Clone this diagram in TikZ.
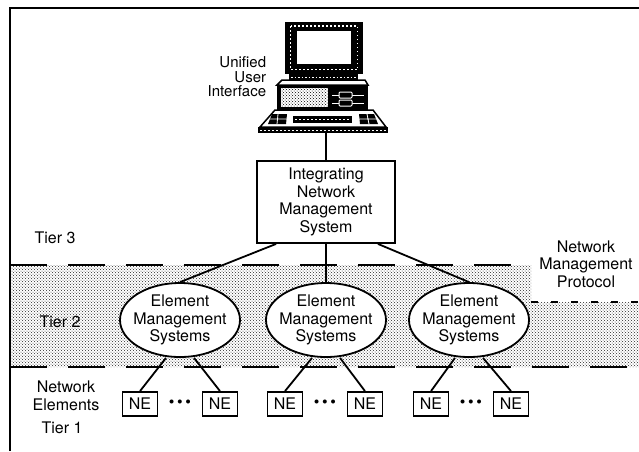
\documentclass[tikz,border=0pt]{standalone}
\usepackage{fontspec}
\setmainfont{TeX Gyre Heros}
\usepackage{tikz}
\usetikzlibrary{shapes,patterns}

\begin{document}
\begin{tikzpicture}[x=1pt,y=-1pt,line width=1.8pt,font=\fontsize{16}{17.5}\selectfont]

\tikzstyle{ems}=[ellipse, draw, fill=white, minimum width=120pt,
                 minimum height=74pt, inner sep=-12pt, align=center]
\tikzstyle{ne}=[rectangle, draw, fill=white, minimum width=35pt,
                minimum height=24pt, inner sep=0pt]
\tikzstyle{tierline}=[line width=2pt, dash pattern=on 37pt off 21pt]
\tikzstyle{txt}=[align=center, inner sep=0pt]

\useasboundingbox (0,0) rectangle (639,451);

% tier 2 band
\fill[pattern=crosshatch dots, pattern color=black!85] (10,265) -- (531,265) -- (531,302)
   -- (639,302) -- (639,367) -- (10,367) -- cycle;
\draw[tierline] (10,265) -- (531,265);
\draw[tierline] (10,367) -- (639,367);
\draw[line width=2pt, dash pattern=on 7pt off 13pt] (531,302) -- (639,302);

% frame
\draw[line width=2pt] (10,451) -- (10,8) -- (639,8);

% workstation
\fill (285,22) rectangle (363,74);
\draw[white, line width=1.2pt, dash pattern=on 1.5pt off 2.5pt] (290.5,26) rectangle (357.5,69.5);
\draw[fill=white, line width=1.5pt] (296,30) rectangle (352,65);
\fill (289,74) rectangle (358,80);
\draw[white, line width=1pt, dash pattern=on 1.5pt off 2pt] (291,77) -- (356,77);
\draw[fill=white, line width=1.5pt] (282,80) -- (365,80) -- (368,85) -- (277,85) -- cycle;
\fill (277,85) rectangle (368,110);
\fill[white] (281,88) rectangle (328,107);
\fill[pattern=crosshatch dots] (281,88) rectangle (328,107);
\draw[white, line width=1pt] (332,95) -- (364,95) (332,103) -- (364,103);
\draw[white, fill=black, line width=1pt, rounded corners=1pt] (339,92) rectangle (352,98);
\draw[white, fill=black, line width=1pt, rounded corners=1pt] (339,100) rectangle (352,106);
\draw[fill=white, line width=1.5pt] (275,110) -- (373,110) -- (386,127) -- (260,127) -- cycle;
\fill (272,114) -- (287,114) -- (286,124) -- (268,124) -- cycle;
\draw[white, line width=0.8pt] (270,119) -- (287,119) (278,114) -- (277,124);
\fill (359,114) -- (374,114) -- (378,124) -- (360,124) -- cycle;
\draw[white, line width=0.8pt] (359,119) -- (376,119) (367,114) -- (369,124);
\fill (293,116) rectangle (352,123);
\draw[white, line width=1pt, dash pattern=on 2pt off 2pt] (295,119.5) -- (350,119.5);
\fill (258,127) rectangle (388,133);
\draw[white, line width=1pt, dash pattern=on 1.5pt off 2.5pt] (260,130) -- (386,130);
\coordinate (pc) at (326,133);

\node[txt, align=right, anchor=east, font=\fontsize{15}{14.5}\selectfont] (uui) at (267,77) {Unified\\User\\Interface};

% integrating system
\node[draw, fill=white, minimum width=138pt, minimum height=82pt, align=center, inner sep=0pt]
   (inms) at (326,202) {Integrating\\Network\\Management\\System};

% element management systems
\node[ems] (ems1) at (180,320) {Element\\Management\\Systems};
\node[ems] (ems2) at (326,320) {Element\\Management\\Systems};
\node[ems] (ems3) at (469,320) {Element\\Management\\Systems};

% network elements
\node[ne] (ne1-l) at (140,404) {NE};
\node[ne] (ne1-r) at (220,404) {NE};
\node[ne] (ne2-l) at (285,404) {NE};
\node[ne] (ne2-r) at (365,404) {NE};
\node[ne] (ne3-l) at (431,404) {NE};
\node[ne] (ne3-r) at (511,404) {NE};
\node[txt] (dots1) at (180,404) {\textbullet\,\textbullet\,\textbullet};
\node[txt] (dots2) at (325,404) {\textbullet\,\textbullet\,\textbullet};
\node[txt] (dots3) at (471,404) {\textbullet\,\textbullet\,\textbullet};

% tier labels
\node[txt] (t3) at (55,238) {Tier 3};
\node[txt] (t2) at (60,322) {Tier 2};
\node[txt] (nel) at (66,396) {Network\\Elements};
\node[txt] (t1) at (62,428) {Tier 1};
\node[txt] (nmp) at (586,264) {Network\\Management\\Protocol};

\draw (pc) -- (inms.north);
\draw ([xshift=20pt]inms.south west) -- (ems1.north);
\draw (inms.south) -- (ems2.north);
\draw ([xshift=-18pt]inms.south east) -- (ems3.north);
\foreach \i in {1,2,3}{
  \draw ([xshift=-14pt]ems\i.south) -- (ne\i-l.north);
  \draw ([xshift=14pt]ems\i.south) -- (ne\i-r.north);
}

\end{tikzpicture}
\end{document}
